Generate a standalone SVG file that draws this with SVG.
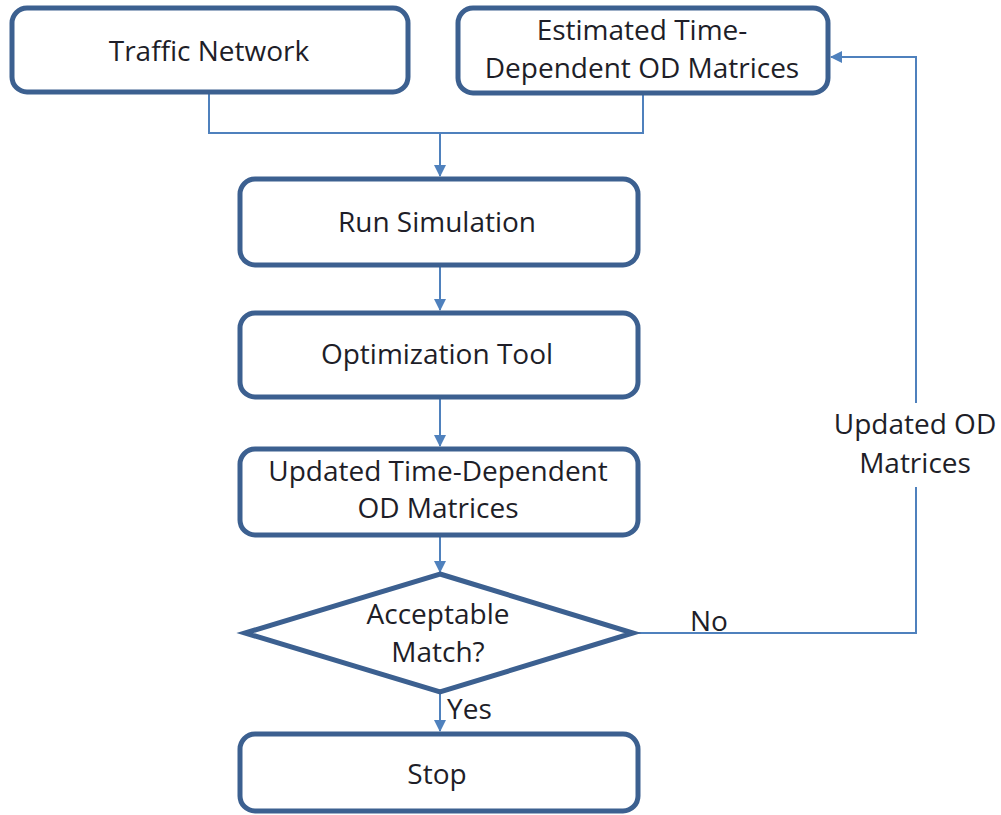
<svg xmlns="http://www.w3.org/2000/svg" width="1001" height="815" viewBox="0 0 1001 815">
  <style>
    .box { fill: #ffffff; stroke: #3c6090; stroke-width: 5; }
    .lbl { font-family: "Open Sans", "Liberation Sans", sans-serif; font-size: 28px; fill: #1e1e28; text-anchor: middle; }
    .note { font-family: "Open Sans", "Liberation Sans", sans-serif; font-size: 28px; fill: #1e1e28; }
    .wire { fill: none; stroke: #4f81bd; stroke-width: 2; }
  </style>
  <defs>
    <marker id="arrow" viewBox="0 0 12 12" refX="11" refY="6" markerWidth="12" markerHeight="12" markerUnits="userSpaceOnUse" orient="auto">
      <path d="M0,0 L12,6 L0,12 Z" fill="#4f81bd"/>
    </marker>
  </defs>
  <rect width="1001" height="815" fill="#ffffff"/>

  <g id="connectors">
    <polyline class="wire" points="209,94 209,133 643,133 643,95"/>
    <line class="wire" x1="440" y1="133" x2="440" y2="176" marker-end="url(#arrow)"/>
    <line class="wire" x1="440" y1="267" x2="440" y2="310" marker-end="url(#arrow)"/>
    <line class="wire" x1="440" y1="399" x2="440" y2="446" marker-end="url(#arrow)"/>
    <line class="wire" x1="440" y1="537" x2="440" y2="572" marker-end="url(#arrow)"/>
    <line class="wire" x1="440" y1="694" x2="440" y2="731" marker-end="url(#arrow)"/>
    <polyline class="wire" points="634,633 916,633 916,487"/>
    <polyline class="wire" points="916,403 916,57 831,57" marker-end="url(#arrow)"/>
  </g>

  <g id="traffic-network">
    <rect class="box" x="12" y="8" width="396" height="84" rx="15"/>
    <text class="lbl" x="209" y="61">Traffic Network</text>
  </g>

  <g id="estimated-od">
    <rect class="box" x="458" y="8" width="370" height="85" rx="15"/>
    <text class="lbl" x="642" y="40">Estimated Time-</text>
    <text class="lbl" x="642" y="78">Dependent OD Matrices</text>
  </g>

  <g id="run-simulation">
    <rect class="box" x="240" y="179" width="398" height="86" rx="15"/>
    <text class="lbl" x="437" y="232">Run Simulation</text>
  </g>

  <g id="optimization-tool">
    <rect class="box" x="240" y="313" width="398" height="84" rx="15"/>
    <text class="lbl" x="437" y="364">Optimization Tool</text>
  </g>

  <g id="updated-od">
    <rect class="box" x="240" y="449" width="398" height="86" rx="15"/>
    <text class="lbl" x="438" y="481">Updated Time-Dependent</text>
    <text class="lbl" x="438" y="518">OD Matrices</text>
  </g>

  <g id="acceptable-match">
    <polygon class="box" points="440,574 633,633 440,692 245,633"/>
    <text class="lbl" x="438" y="624">Acceptable</text>
    <text class="lbl" x="438" y="662">Match?</text>
  </g>

  <g id="stop">
    <rect class="box" x="240" y="734" width="398" height="77" rx="15"/>
    <text class="lbl" x="437" y="784">Stop</text>
  </g>

  <g id="edge-labels">
    <text class="note" x="447" y="719">Yes</text>
    <text class="note" x="690" y="631">No</text>
    <text class="lbl" x="915" y="434">Updated OD</text>
    <text class="lbl" x="915" y="473">Matrices</text>
  </g>
</svg>
